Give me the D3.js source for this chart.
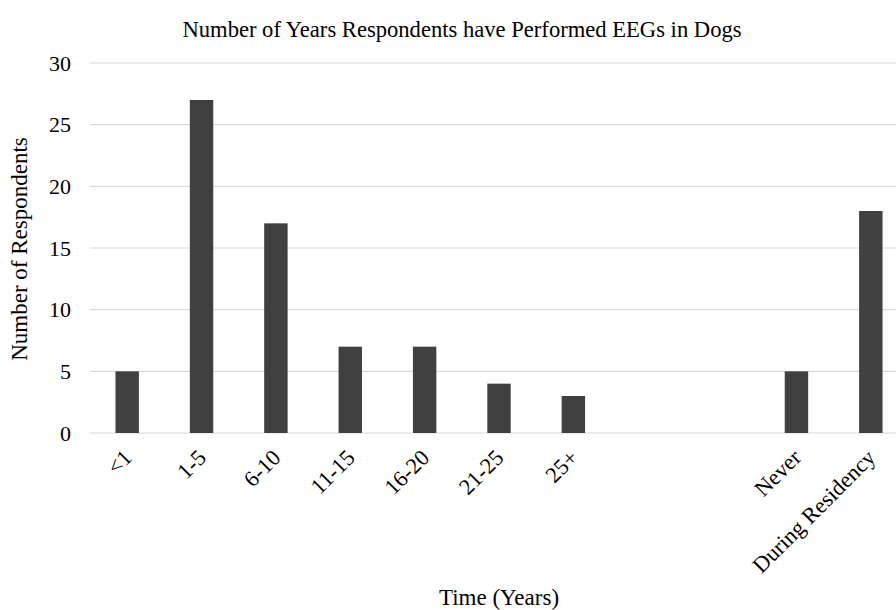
<!DOCTYPE html>
<html>
<head>
<meta charset="utf-8">
<script src="https://cdn.jsdelivr.net/npm/d3@7"></script>
<style>
  html, body { margin: 0; padding: 0; background: #fff; }
  svg { display: block; font-family: "Liberation Serif", "Times New Roman", serif; }
</style>
</head>
<body>
<svg id="chart" width="896" height="610"></svg>
<script>
// Categories (two blank slots separate "25+" from "Never")
const categories = ["<1", "1-5", "6-10", "11-15", "16-20", "21-25", "25+", "", " ", "Never", "During Residency"];
const respondents = [5, 27, 17, 7, 7, 4, 3, null, null, 5, 18];
const yTicks = [0, 5, 10, 15, 20, 25, 30];

const svg = d3.select("#chart");
const plotLeft = 90, plotRight = 908, plotTop = 63, plotBottom = 433;

const x = d3.scaleBand().domain(categories).range([plotLeft, plotRight]).paddingInner(0.685).paddingOuter(0.3425);
const y = d3.scaleLinear().domain([0, 30]).range([plotBottom, plotTop]);

// Horizontal gridlines
svg.append("g").selectAll("line").data(yTicks).join("line")
  .attr("x1", plotLeft).attr("x2", 896)
  .attr("y1", d => y(d)).attr("y2", d => y(d))
  .attr("stroke", "#d9d9d9").attr("stroke-width", 1.2);

// Y axis tick labels
const yAxis = d3.axisLeft(y).tickValues(yTicks).tickSize(0).tickPadding(0);
svg.append("g").attr("transform", `translate(71,0)`).call(yAxis)
  .call(g => g.select(".domain").remove())
  .call(g => g.selectAll("text").attr("font-size", 22).attr("fill", "#000")
    .attr("font-family", "Liberation Serif, serif"));

// Bars
const data = categories.map((c, i) => ({ c, v: respondents[i] })).filter(d => d.v != null);
svg.append("g").selectAll("rect").data(data).join("rect")
  .attr("x", d => x(d.c)).attr("width", x.bandwidth())
  .attr("y", d => y(d.v)).attr("height", d => y(0) - y(d.v))
  .attr("fill", "#404040");

// X axis tick labels, rotated
const xAxis = d3.axisBottom(x).tickSize(0).tickPadding(0);
svg.append("g").attr("transform", `translate(0,${plotBottom})`).call(xAxis)
  .call(g => g.select(".domain").remove())
  .call(g => g.selectAll("text")
    .attr("font-size", 22.5).attr("fill", "#000")
    .attr("font-family", "Liberation Serif, serif")
    .attr("text-anchor", "end")
    .attr("dy", null).attr("y", 0)
    .attr("transform", "translate(6,26) rotate(-45)"));

// Title
svg.append("text").attr("x", 462).attr("y", 37).attr("text-anchor", "middle")
  .attr("font-size", 22.6).text("Number of Years Respondents have Performed EEGs in Dogs");

// Axis titles
svg.append("text").attr("x", 499).attr("y", 605).attr("text-anchor", "middle")
  .attr("font-size", 23).text("Time (Years)");
svg.append("text").attr("transform", "translate(27,249) rotate(-90)").attr("text-anchor", "middle")
  .attr("font-size", 23).text("Number of Respondents");
</script>
</body>
</html>
